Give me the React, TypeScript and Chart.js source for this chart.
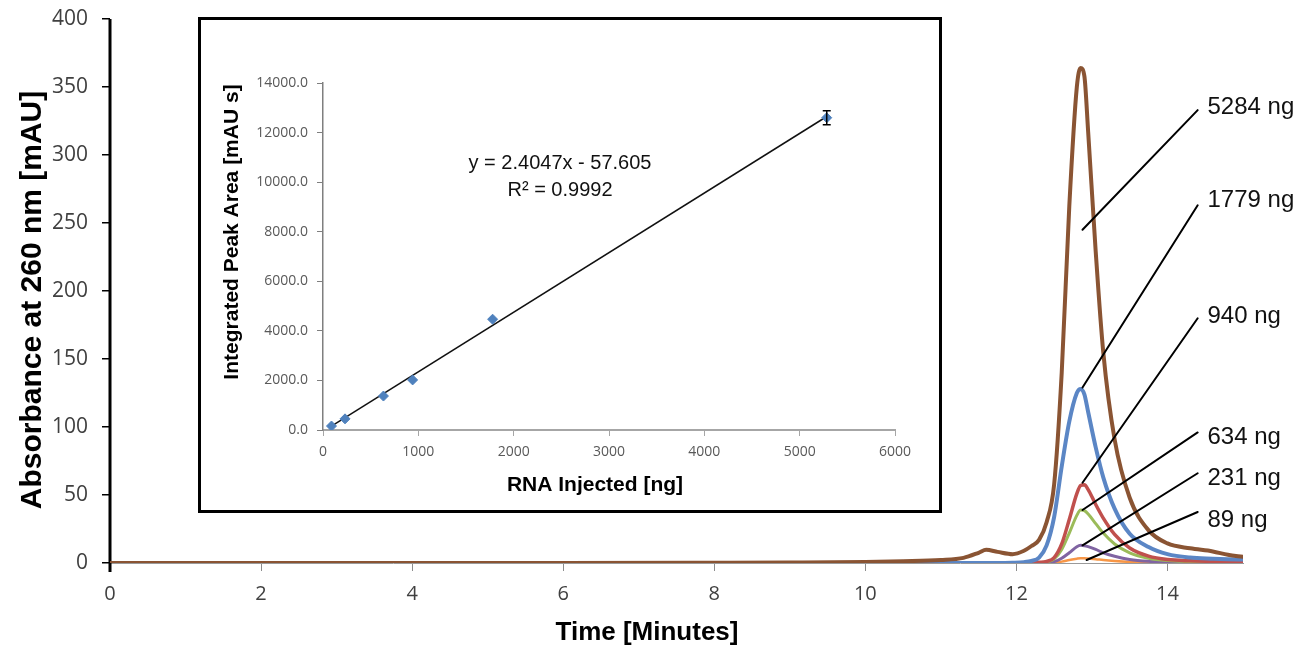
import React, { useEffect, useRef } from 'react';
import { Chart, registerables } from 'chart.js';

Chart.register(...registerables);

// ---------- Main chromatogram data ----------
const times = [0, 2, 4, 6, 8, 9, 10, 10.5, 11, 11.3, 11.5, 11.6, 11.75, 11.95, 12.1, 12.2, 12.3, 12.4, 12.5, 12.6, 12.7, 12.8, 12.85, 12.9, 12.95, 13.05, 13.15, 13.3, 13.5, 13.75, 14, 14.3, 14.6, 14.8, 15];
const ng5284 = [0, 0, 0, 0, 0.2, 0.4, 0.8, 1.3, 2.2, 3.8, 7.5, 9.7, 8.2, 6.5, 9, 12.5, 17, 30, 58, 140, 262, 350, 364, 358, 317, 229, 155, 91, 48, 24, 14.4, 10.8, 8.5, 6, 4.5];
const ng1779 = [0, 0, 0, 0, 0, 0, 0, 0, 0, 0, 0, 0, 0, 0.2, 0.6, 1.5, 4, 13, 34, 71, 104, 125, 128, 124, 111, 85, 63, 40, 21.5, 11.7, 6.5, 4, 3.2, 2.8, 2.6];
const ng940 = [0, 0, 0, 0, 0, 0, 0, 0, 0, 0, 0, 0, 0, 0, 0, 0.2, 0.5, 1.2, 4, 14, 32, 51, 57, 57.5, 54, 43, 33, 21, 11, 5, 2.5, 1.6, 1.2, 1, 0.8];
const ng634 = [0, 0, 0, 0, 0, 0, 0, 0, 0, 0, 0, 0, 0, 0, 0, 0, 0.3, 0.8, 3, 10, 22, 35, 39, 38.5, 36, 29, 22, 14, 7.5, 3.5, 1.8, 1.1, 0.8, 0.6, 0.5];
const ng231 = [0, 0, 0, 0, 0, 0, 0, 0, 0, 0, 0, 0, 0, 0, 0, 0, 0, 0.3, 1, 3.5, 7.5, 12, 13, 12.7, 12, 10, 7.5, 5, 2.6, 1.2, 0.6, 0.4, 0.3, 0.2, 0.2];
const ng89 = [0, 0, 0, 0, 0, 0, 0, 0, 0, 0, 0, 0, 0, 0, 0, 0, 0, 0, 0.3, 1, 2.2, 3.2, 3.5, 3.5, 3.3, 2.8, 2.2, 1.5, 0.8, 0.4, 0.2, 0.1, 0.1, 0.1, 0.1];

const seriesNames = ['5284 ng', '1779 ng', '940 ng', '634 ng', '231 ng', '89 ng'];
const seriesValues = [ng5284, ng1779, ng940, ng634, ng231, ng89];
const seriesColors = ['#8A5433', '#5B86C5', '#C0504D', '#9BBB59', '#8064A2', '#F79646'];
const seriesWidths = [4, 4, 3.5, 3, 3, 2.5];

const xTickStep = 2;
const yTicks = [0, 50, 100, 150, 200, 250, 300, 350, 400];

// leader-line annotations (data coordinates)
const labelT = [14.53, 14.53, 14.53, 14.53, 14.53, 14.53];
const labelV = [335, 267, 181, 92.6, 62.5, 31.6];
const leaderStartT = [14.4, 14.4, 14.4, 14.4, 14.4, 14.4];
const leaderStartV = [333, 263, 180, 96, 66, 37.5];
const leaderEndT = [12.875, 12.875, 12.875, 12.875, 12.875, 12.93];
const leaderEndV = [245, 129, 59, 39, 13, 2.2];

// ---------- Inset calibration data ----------
const injectedNg = [89, 231, 634, 940, 1779, 5284];
const peakArea = [160, 450, 1370, 2020, 4470, 12600];
const peakAreaErr = [0, 0, 0, 0, 0, 280];
const fitSlope = 2.4047;
const fitIntercept = -57.605;
const fitR2 = '0.9992';

const SANS = '"Liberation Sans", Arial, sans-serif';
const TICKFONT = '"Open Sans", "DejaVu Sans", sans-serif';

const mainDecor = {
  id: 'mainDecor',
  beforeDatasetsDraw(chart: any) {
    const { ctx, chartArea } = chart;
    ctx.save();
    ctx.strokeStyle = '#000';
    ctx.lineWidth = 3;
    ctx.beginPath();
    ctx.moveTo(chartArea.left, chartArea.top);
    ctx.lineTo(chartArea.left, chartArea.bottom + 9);
    ctx.stroke();
    ctx.restore();
  },
  afterDatasetsDraw(chart: any) {
    const ctx = chart.ctx;
    const xs = chart.scales.x;
    const ys = chart.scales.y;
    ctx.save();
    ctx.strokeStyle = '#000';
    ctx.lineWidth = 2;
    ctx.lineCap = 'round';
    seriesNames.forEach((txt, i) => {
      ctx.beginPath();
      ctx.moveTo(xs.getPixelForValue(leaderStartT[i]), ys.getPixelForValue(leaderStartV[i]));
      ctx.lineTo(xs.getPixelForValue(leaderEndT[i]), ys.getPixelForValue(leaderEndV[i]));
      ctx.stroke();
      ctx.font = '24px ' + SANS;
      ctx.fillStyle = '#111';
      ctx.textAlign = 'left';
      ctx.textBaseline = 'middle';
      ctx.fillText(txt, xs.getPixelForValue(labelT[i]), ys.getPixelForValue(labelV[i]));
    });
    // axis titles
    ctx.fillStyle = '#000';
    ctx.font = 'bold 26px ' + SANS;
    ctx.textAlign = 'center';
    ctx.textBaseline = 'middle';
    ctx.fillText('Time [Minutes]', 647, 633);
    ctx.translate(33, 300);
    ctx.rotate(-Math.PI / 2);
    ctx.font = 'bold 30px ' + SANS;
    ctx.fillText('Absorbance at 260 nm [mAU]', 0, 0);
    ctx.restore();
  },
};

const insetDecor = {
  id: 'insetDecor',
  afterDatasetsDraw(chart: any) {
    const ctx = chart.ctx;
    const xs = chart.scales.x;
    const ys = chart.scales.y;
    ctx.save();
    // error bars
    ctx.strokeStyle = '#000';
    ctx.lineWidth = 1.5;
    injectedNg.forEach((x, i) => {
      if (!peakAreaErr[i]) return;
      const px = xs.getPixelForValue(x);
      const y1 = ys.getPixelForValue(peakArea[i] - peakAreaErr[i]);
      const y2 = ys.getPixelForValue(peakArea[i] + peakAreaErr[i]);
      ctx.beginPath();
      ctx.moveTo(px, y1); ctx.lineTo(px, y2);
      ctx.moveTo(px - 4, y1); ctx.lineTo(px + 4, y1);
      ctx.moveTo(px - 4, y2); ctx.lineTo(px + 4, y2);
      ctx.stroke();
    });
    // equation
    ctx.fillStyle = '#111';
    ctx.font = '20px ' + SANS;
    ctx.textAlign = 'center';
    ctx.textBaseline = 'middle';
    ctx.fillText('y = ' + fitSlope + 'x - ' + Math.abs(fitIntercept), 359, 143);
    ctx.fillText('R\u00B2 = ' + fitR2, 359, 170);
    // titles
    ctx.fillStyle = '#000';
    ctx.font = 'bold 21px ' + SANS;
    ctx.fillText('RNA Injected [ng]', 394, 465);
    ctx.translate(31, 212);
    ctx.rotate(-Math.PI / 2);
    ctx.fillText('Integrated Peak Area [mAU s]', 0, 0);
    ctx.restore();
  },
};

export default function App() {
  const mainRef = useRef<HTMLCanvasElement>(null);
  const insetRef = useRef<HTMLCanvasElement>(null);

  useEffect(() => {
    const datasets = seriesNames.map((name, i) => ({
      label: name,
      data: times.map((t, k) => ({ x: t, y: seriesValues[i][k] })),
      borderColor: seriesColors[i],
      backgroundColor: seriesColors[i],
      borderWidth: seriesWidths[i],
      pointRadius: 0,
      cubicInterpolationMode: 'monotone' as const,
      borderJoinStyle: 'round' as const,
      borderCapStyle: 'round' as const,
      fill: false,
    }));

    const main = new Chart(mainRef.current!, {
      type: 'line',
      data: { datasets },
      plugins: [mainDecor],
      options: {
        responsive: false,
        devicePixelRatio: 1,
        animation: false,
        layout: { padding: { top: 19, right: 67, left: 0, bottom: 0 } },
        plugins: { legend: { display: false }, tooltip: { enabled: false } },
        scales: {
          x: {
            type: 'linear',
            min: 0,
            max: 15,
            afterFit: (s: any) => { s.height = 92; s.paddingLeft = 0; s.paddingRight = 0; },
            afterBuildTicks: (s: any) => { s.ticks = s.ticks.filter((t: any) => t.value % xTickStep === 0); },
            ticks: { stepSize: xTickStep, color: '#404040', font: { family: TICKFONT, size: 20 }, padding: 11, maxRotation: 0 },
            grid: { drawOnChartArea: false, drawTicks: true, tickLength: 8, color: '#8c8c8c', lineWidth: 1 },
            border: { display: true, color: '#9a9a9a', width: 1 },
          },
          y: {
            type: 'linear',
            min: yTicks[0],
            max: yTicks[yTicks.length - 1],
            afterFit: (s: any) => { s.width = 110; s.paddingTop = 0; s.paddingBottom = 0; },
            ticks: { stepSize: 50, color: '#404040', font: { family: TICKFONT, size: 21 }, padding: 14 },
            grid: { drawOnChartArea: false, drawTicks: true, tickLength: 8, color: '#000', lineWidth: 1.5 },
            border: { display: false },
          },
        },
      },
    });

    const inset = new Chart(insetRef.current!, {
      type: 'scatter',
      data: {
        datasets: [
          {
            label: 'Peak area',
            data: injectedNg.map((x, i) => ({ x, y: peakArea[i] })),
            backgroundColor: '#4F81BD',
            borderColor: '#4F81BD',
            pointStyle: 'rectRot',
            pointRadius: 5,
          },
          {
            type: 'line',
            label: 'Linear fit',
            data: [injectedNg[0], injectedNg[injectedNg.length - 1]].map((x) => ({ x, y: fitSlope * x + fitIntercept })),
            borderColor: '#111',
            borderWidth: 1.5,
            pointRadius: 0,
            fill: false,
          } as any,
        ],
      },
      plugins: [insetDecor],
      options: {
        responsive: false,
        devicePixelRatio: 1,
        animation: false,
        layout: { padding: { top: 63, right: 44, left: 0, bottom: 0 } },
        plugins: { legend: { display: false }, tooltip: { enabled: false } },
        scales: {
          x: {
            type: 'linear',
            min: 0,
            max: 6000,
            afterFit: (s: any) => { s.height = 80; },
            ticks: { stepSize: 1000, color: '#595959', font: { family: TICKFONT, size: 14 }, padding: 8, maxRotation: 0, callback: (v: any) => String(v) },
            grid: { drawOnChartArea: false, drawTicks: true, tickLength: 6, color: '#a6a6a6', lineWidth: 1 },
            border: { display: true, color: '#a6a6a6', width: 2 },
          },
          y: {
            type: 'linear',
            min: 0,
            max: 14000,
            afterFit: (s: any) => { s.width = 122; },
            ticks: { stepSize: 2000, color: '#595959', font: { family: TICKFONT, size: 14 }, padding: 9, callback: (v: any) => Number(v).toFixed(1) },
            grid: { drawOnChartArea: false, drawTicks: true, tickLength: 6, color: '#7f7f7f', lineWidth: 1 },
            border: { display: true, color: '#7f7f7f', width: 1.5 },
          },
        },
      },
    });

    return () => {
      main.destroy();
      inset.destroy();
    };
  }, []);

  return (
    <div style={{ position: 'fixed', left: 0, top: 0, width: 1310, height: 655, background: '#fff' }}>
      <canvas ref={mainRef} width={1310} height={655} style={{ position: 'absolute', left: 0, top: 0, width: 1310, height: 655 }} />
      <div style={{ position: 'absolute', left: 198, top: 17, width: 738, height: 490, border: '3px solid #000', background: '#fff' }}>
        <canvas ref={insetRef} width={738} height={490} style={{ display: 'block', width: 738, height: 490 }} />
      </div>
    </div>
  );
}
